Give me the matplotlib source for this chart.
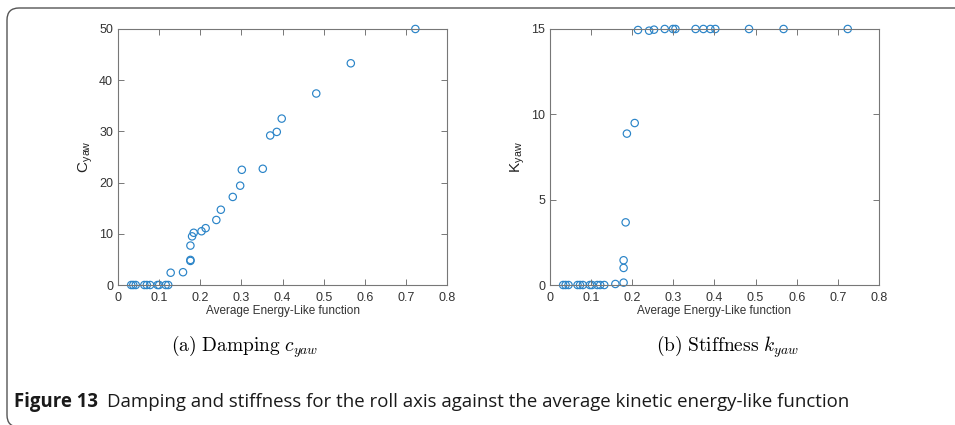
import matplotlib.pyplot as plt
from matplotlib.patches import FancyBboxPatch

plt.rcParams['mathtext.fontset'] = 'cm'

# energy-like function values and fitted coefficients
x_damp = [0.032, 0.037, 0.043, 0.064, 0.070, 0.078, 0.096, 0.100, 0.116, 0.122,
          0.128, 0.158, 0.176, 0.176, 0.176, 0.180, 0.184, 0.203, 0.213, 0.239,
          0.250, 0.279, 0.297, 0.301, 0.352, 0.370, 0.386, 0.398, 0.482, 0.566, 0.723]
c_yaw = [0, 0, 0, 0, 0, 0, 0, 0, 0, 0,
         2.4, 2.5, 4.7, 4.9, 7.7, 9.5, 10.2, 10.5, 11.1, 12.7,
         14.7, 17.2, 19.4, 22.5, 22.7, 29.2, 29.9, 32.5, 37.4, 43.3, 50.0]

x_stiff = [0.032, 0.038, 0.045, 0.067, 0.073, 0.080, 0.097, 0.102, 0.115, 0.122, 0.132,
           0.159, 0.179, 0.179, 0.179, 0.184, 0.187, 0.206,
           0.214, 0.241, 0.253, 0.279, 0.299, 0.305, 0.354, 0.373, 0.390, 0.402,
           0.484, 0.568, 0.724]
k_yaw = [0, 0, 0, 0, 0, 0, 0, 0, 0, 0, 0,
         0.06, 0.14, 1.0, 1.45, 3.67, 8.87, 9.49,
         14.94, 14.9, 14.96, 15, 15, 15, 15, 15, 15, 15,
         15, 15, 15]

xticks = [0, 0.1, 0.2, 0.3, 0.4, 0.5, 0.6, 0.7, 0.8]
blue = '#2a84c8'
axcol = '#777777'

fig = plt.figure(figsize=(9.55, 4.25), dpi=100)
ax1 = fig.add_axes([0.1236, 0.3294, 0.3445, 0.6024])
ax2 = fig.add_axes([0.5759, 0.3294, 0.3445, 0.6024])


def style(ax, ylim, yticks, ylabel):
    ax.set_xlim(0, 0.8)
    ax.set_ylim(*ylim)
    ax.set_xticks(xticks)
    ax.set_xticklabels([f'{t:g}' for t in xticks])
    ax.set_yticks(yticks)
    ax.tick_params(direction='in', length=4, width=0.7, color=axcol,
                   labelsize=9, labelcolor='#333333', top=True, right=True,
                   labelfontfamily='Liberation Sans')
    ax.tick_params(axis='x', pad=5)
    for s in ax.spines.values():
        s.set_color(axcol)
        s.set_linewidth(0.8)
    ax.set_xlabel('Average Energy-Like function', fontsize=8.5, color='#333333',
                  family='Liberation Sans', labelpad=1)
    ax.set_ylabel(ylabel, fontsize=11, color='#222222', family='Liberation Sans', labelpad=3)


ax1.scatter(x_damp, c_yaw, s=28, facecolors='none', edgecolors=blue, linewidths=0.85, clip_on=False)
style(ax1, (0, 50), [0, 10, 20, 30, 40, 50], r'C$_{\mathregular{yaw}}$')

ax2.scatter(x_stiff, k_yaw, s=28, facecolors='none', edgecolors=blue, linewidths=0.85, clip_on=False)
style(ax2, (0, 15), [0, 5, 10, 15], r'K$_{\mathregular{yaw}}$')

fig.text(0.2565, 0.183, r'$\mathrm{(a)\ Damping}\ c_{yaw}$', fontsize=14, ha='center', va='center')
fig.text(0.7623, 0.183, r'$\mathrm{(b)\ Stiffness}\ k_{yaw}$', fontsize=14, ha='center', va='center')

# figure caption
t1 = fig.text(14 / 955, 0.055, 'Figure 13', fontsize=13.4, fontweight='bold',
              family='Open Sans', va='center', color='#1a1a1a')
fig.canvas.draw()
bb = t1.get_window_extent()
fig.text((bb.x1 + 9) / 955, 0.055,
         'Damping and stiffness for the roll axis against the average kinetic energy-like function',
         fontsize=13.4, family='Open Sans', va='center', color='#1a1a1a')

# rounded frame around the figure
frame = FancyBboxPatch((7, -2), 980, 417 - (-2), boxstyle='round,pad=0,rounding_size=12',
                       transform=None, facecolor='none', edgecolor='#555555', linewidth=1.0)
fig.patches.append(frame)

fig.savefig('out.png', dpi=100)
